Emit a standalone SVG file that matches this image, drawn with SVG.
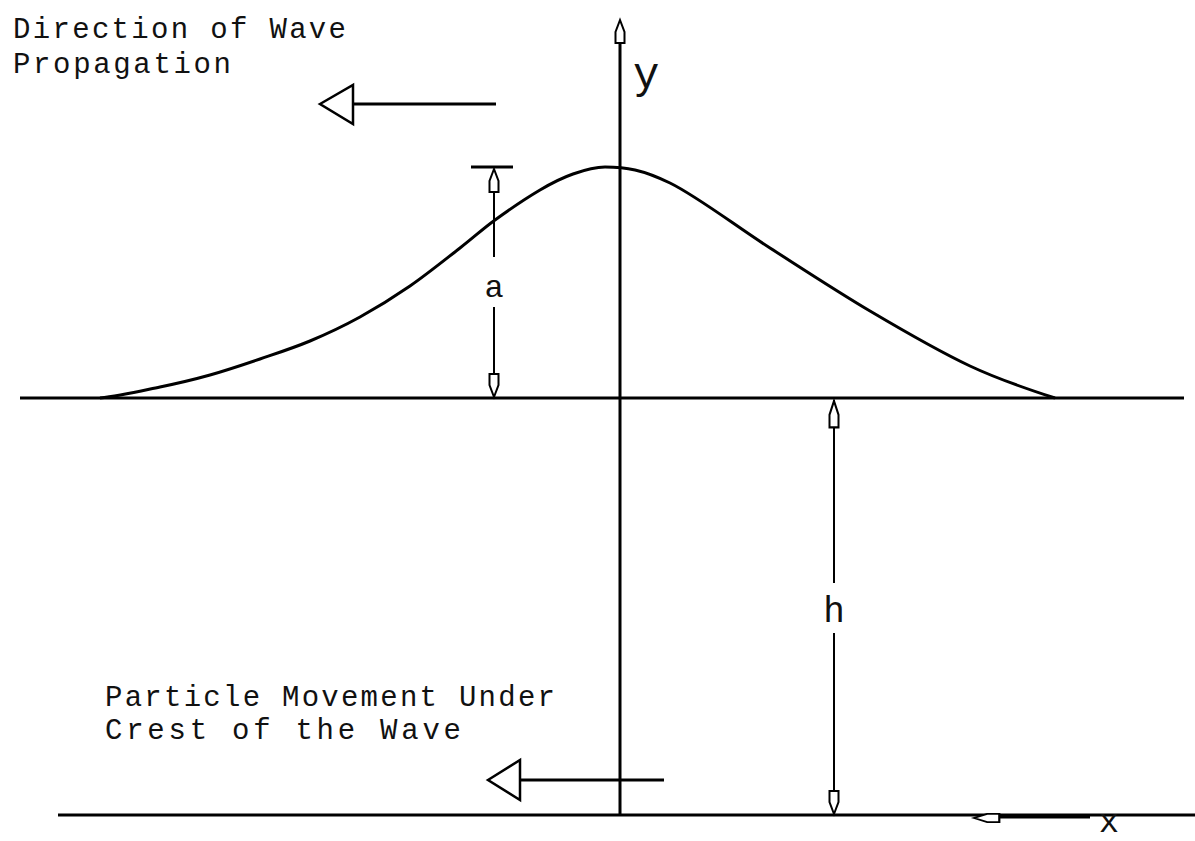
<svg xmlns="http://www.w3.org/2000/svg" width="1195" height="841" viewBox="0 0 1195 841">
<style>
.ln{stroke:#000;stroke-width:3;fill:none;stroke-linecap:butt}
.thin{stroke:#000;stroke-width:2;fill:none}
.head{stroke:#000;stroke-width:2;fill:#fff;stroke-linejoin:miter}
.tri{stroke:#000;stroke-width:2.5;fill:#fff;stroke-linejoin:miter}
.txt{font-family:"Liberation Mono","DejaVu Sans Mono",monospace;fill:#111}
.cap{font-size:29px}
</style>
<defs>
<polygon id="sh" class="head" points="0,0 -4.5,12 -4.5,23 4.5,23 4.5,12"/>
</defs>
<rect width="1195" height="841" fill="#fff"/>

<g id="water-surface">
<line class="ln" x1="20" y1="398" x2="1184" y2="398"/>
</g>
<g id="sea-bed">
<line class="ln" x1="58" y1="815" x2="1195" y2="815"/>
</g>
<g id="wave">
<path class="ln" stroke-width="2.5" d="M100,398 C120,396 141.7,390.8 160,387 C178.3,383.2 193.3,379.7 210,375 C226.7,370.3 243.3,364.7 260,359 C276.7,353.3 293.3,348 310,341 C326.7,334 343.3,326.2 360,317 C376.7,307.8 393.3,297.5 410,286 C426.7,274.5 445.8,259 460,248 C474.2,237 481.7,229.7 495,220 C508.3,210.3 527,197.7 540,190 C553,182.3 562.2,177.8 573,174 C583.8,170.2 594.3,167 605,167 C626,167 642.5,169.5 670,183 C697.5,196.5 736.7,226.7 770,248 C803.3,269.3 836.7,291.3 870,311 C903.3,330.7 939.2,351.5 970,366 C1000.8,380.5 1027,389 1055,398"/>
</g>

<g id="y-axis">
<line class="ln" x1="620" y1="44" x2="620" y2="815"/>
<use href="#sh" transform="translate(620,20)"/>
<text class="txt" x="633" y="88" font-size="44">y</text>
</g>

<g id="x-axis">
<line class="ln" stroke-width="4" x1="1000" y1="817" x2="1090" y2="817"/>
<use href="#sh" transform="translate(974,818) rotate(-90) scale(0.9,1.1)"/>
<text class="txt" x="1109" y="832" font-size="34" text-anchor="middle">x</text>
</g>

<g id="dimension-a">
<line class="ln" x1="471" y1="167" x2="513" y2="167"/>
<line class="thin" x1="494" y1="169" x2="494" y2="257"/>
<line class="thin" x1="494" y1="307" x2="494" y2="398"/>
<use href="#sh" transform="translate(494,169)"/>
<use href="#sh" transform="translate(494,397) rotate(180)"/>
<text class="txt" x="494" y="297" font-size="32" text-anchor="middle">a</text>
</g>

<g id="dimension-h">
<line class="thin" x1="834" y1="400" x2="834" y2="583"/>
<line class="thin" x1="834" y1="633" x2="834" y2="814"/>
<use href="#sh" transform="translate(834,401) scale(1,1.15)"/>
<use href="#sh" transform="translate(834,814) rotate(180)"/>
<text class="txt" x="834" y="622" font-size="36" text-anchor="middle">h</text>
</g>

<g id="label-propagation">
<text class="txt cap" x="13" y="38" textLength="333" lengthAdjust="spacing">Direction of Wave</text>
<text class="txt cap" x="13" y="73" textLength="218" lengthAdjust="spacing">Propagation</text>
</g>
<g id="label-particle">
<text class="txt cap" x="105" y="706" textLength="450" lengthAdjust="spacing">Particle Movement Under</text>
<text class="txt cap" x="105" y="739" textLength="356" lengthAdjust="spacing">Crest of the Wave</text>
</g>

<g id="connectors">
<line class="ln" x1="353" y1="104" x2="496" y2="104"/>
<polygon class="tri" points="320,104 353,85 353,124"/>
<line class="ln" x1="520" y1="780" x2="664" y2="780"/>
<polygon class="tri" points="488,780 520,760 520,800"/>
</g>
</svg>
